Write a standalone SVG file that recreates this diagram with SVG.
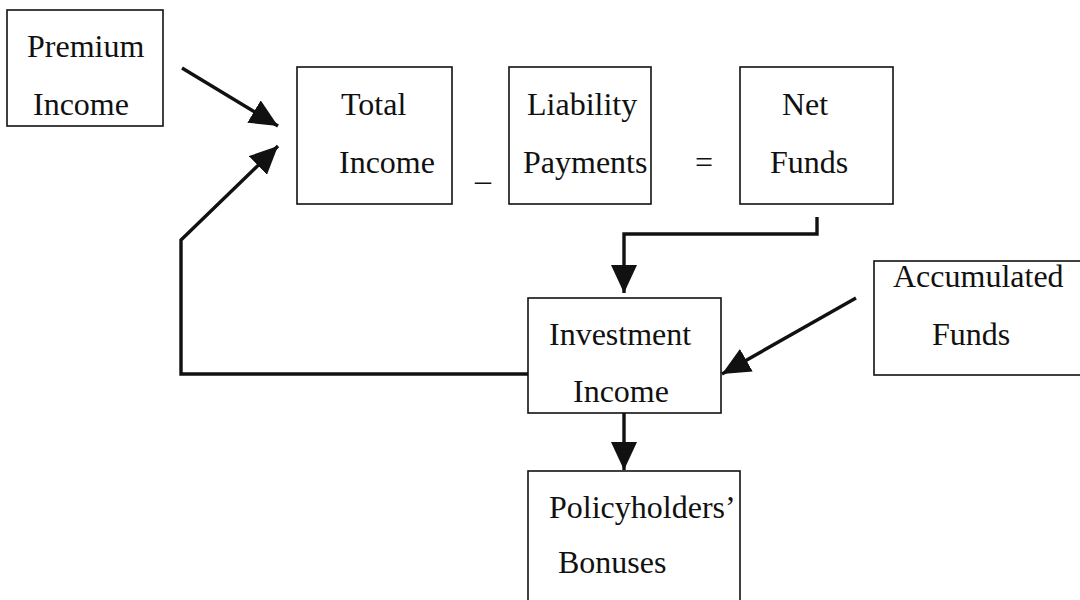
<svg xmlns="http://www.w3.org/2000/svg" width="1080" height="600" viewBox="0 0 1080 600">
<style>
.box{fill:#fff;stroke:#111;stroke-width:1.6}
.t{font-family:"Liberation Serif","Times New Roman",serif;font-size:32px;fill:#111}
.c{fill:none;stroke:#111;stroke-width:3.4}
</style>
<defs>
<marker id="ah" markerUnits="userSpaceOnUse" markerWidth="30" markerHeight="28" refX="28" refY="13" orient="auto">
<path d="M0,0 L28,13 L0,26 z" fill="#111"/>
</marker>
</defs>
<rect width="1080" height="600" fill="#fff"/>
<g id="premium">
<rect class="box" x="7" y="10" width="156" height="116"/>
<text class="t" x="27" y="57">Premium</text>
<text class="t" x="33" y="115">Income</text>
</g>
<g id="total">
<rect class="box" x="297" y="67" width="155" height="137"/>
<text class="t" x="341" y="115">Total</text>
<text class="t" x="339" y="173">Income</text>
</g>
<g id="minus"><text class="t" x="475" y="180">_</text></g>
<g id="liability">
<rect class="box" x="509" y="67" width="142" height="137"/>
<text class="t" x="527" y="115">Liability</text>
<text class="t" x="523" y="173">Payments</text>
</g>
<g id="equals"><text class="t" x="695" y="173">=</text></g>
<g id="net">
<rect class="box" x="740" y="67" width="153" height="137"/>
<text class="t" x="782" y="115">Net</text>
<text class="t" x="770" y="173">Funds</text>
</g>
<g id="investment">
<rect class="box" x="528" y="298" width="193" height="115"/>
<text class="t" x="549" y="345">Investment</text>
<text class="t" x="573" y="402">Income</text>
</g>
<g id="accumulated">
<rect class="box" x="874" y="261" width="215" height="114"/>
<text class="t" x="893" y="287">Accumulated</text>
<text class="t" x="932" y="345">Funds</text>
</g>
<g id="bonuses">
<rect class="box" x="528" y="471" width="212" height="140"/>
<text class="t" x="549" y="518">Policyholders’</text>
<text class="t" x="558" y="573">Bonuses</text>
</g>
<g id="connectors">
<line class="c" x1="182" y1="68" x2="278" y2="126" marker-end="url(#ah)"/>
<polyline class="c" points="528,374 181,374 181,240 278,146" marker-end="url(#ah)"/>
<polyline class="c" points="817,217 817,234 624,234 624,293" marker-end="url(#ah)"/>
<line class="c" x1="856" y1="298" x2="722" y2="374" marker-end="url(#ah)"/>
<line class="c" x1="624" y1="413" x2="624" y2="470" marker-end="url(#ah)"/>
</g>
</svg>
